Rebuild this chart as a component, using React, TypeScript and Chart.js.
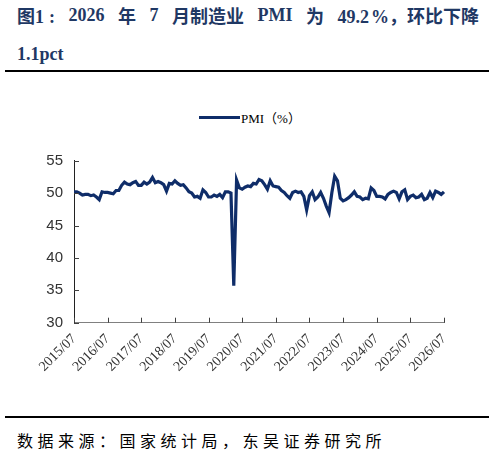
import React, { useEffect, useRef } from "react";
import { Chart, registerables } from "chart.js";

Chart.register(...registerables);

const tickLabels = [
  "2015/07", "2016/07", "2017/07", "2018/07", "2019/07", "2020/07",
  "2021/07", "2022/07", "2023/07", "2024/07", "2025/07", "2026/07",
];

const pmi2015 = [50.2, 50.2, 50.0, 49.7, 49.8, 49.8, 49.6, 49.7];
const pmi2016 = [49.4, 49.0, 50.2, 50.1, 50.1, 50.0, 49.9, 50.4, 50.4, 51.2, 51.7, 51.4];
const pmi2017 = [51.3, 51.6, 51.8, 51.2, 51.2, 51.7, 51.4, 51.7, 52.4, 51.6, 51.8, 51.6];
const pmi2018 = [51.3, 50.3, 51.5, 51.4, 51.9, 51.5, 51.2, 51.3, 50.8, 50.2, 50.0, 49.4];
const pmi2019 = [49.5, 49.2, 50.5, 50.1, 49.4, 49.4, 49.7, 49.5, 49.8, 49.3, 50.2, 50.2];
const pmi2020 = [50.0, 35.7, 52.0, 50.8, 50.6, 50.9, 51.1, 51.0, 51.5, 51.4, 52.1, 51.9];
const pmi2021 = [51.3, 50.6, 51.9, 51.1, 51.0, 50.9, 50.4, 50.1, 49.6, 49.2, 50.1, 50.3];
const pmi2022 = [50.1, 50.2, 49.5, 47.4, 49.6, 50.2, 49.0, 49.4, 50.1, 49.2, 48.0, 47.0];
const pmi2023 = [50.1, 52.6, 51.9, 49.2, 48.8, 49.0, 49.3, 49.7, 50.2, 49.5, 49.4, 49.0];
const pmi2024 = [49.2, 49.1, 50.8, 50.4, 49.5, 49.5, 49.4, 49.1, 49.8, 50.1, 50.3, 50.1];
const pmi2025 = [49.1, 50.2, 50.5, 49.0, 49.5, 49.7, 49.3, 49.4, 49.8, 49.0, 49.2, 50.1];
const pmi2026 = [49.3, 50.3, 50.1, 49.8, 50.2];

const pmiValues = [
  ...pmi2015, ...pmi2016, ...pmi2017, ...pmi2018, ...pmi2019, ...pmi2020,
  ...pmi2021, ...pmi2022, ...pmi2023, ...pmi2024, ...pmi2025, ...pmi2026,
];

// month categories, one per value, beginning at the first tick label
const categories: string[] = [];
{
  let y = 2015;
  let m = 7;
  for (let i = 0; i < pmiValues.length; i++) {
    categories.push(`${y}/${String(m).padStart(2, "0")}`);
    m++;
    if (m > 12) { m = 1; y++; }
  }
}

const yTicks = [30, 35, 40, 45, 50, 55];

const LINE = "#0F2D69";
const TITLE = "#1F3864";

const innerTicks = {
  id: "innerTicks",
  afterDraw(chart: any) {
    const { ctx } = chart;
    const xs = chart.scales.x;
    const ys = chart.scales.y;
    ctx.save();
    ctx.lineWidth = 1;
    ctx.strokeStyle = "#404040";
    categories.forEach((c, i) => {
      if (tickLabels.includes(c)) {
        const px = Math.round(xs.getPixelForValue(i)) + 0.5;
        ctx.beginPath();
        ctx.moveTo(px, ys.bottom);
        ctx.lineTo(px, ys.bottom - 5);
        ctx.stroke();
      }
    });
    yTicks.forEach((v) => {
      const py = Math.round(ys.getPixelForValue(v)) + 0.5;
      ctx.beginPath();
      ctx.moveTo(xs.left, py);
      ctx.lineTo(xs.left + 5, py);
      ctx.stroke();
    });
    ctx.restore();
  },
};

export default function App() {
  const ref = useRef<HTMLCanvasElement>(null);

  useEffect(() => {
    document.body.style.margin = "0";
    const chart = new Chart(ref.current!, {
      type: "line",
      data: {
        labels: categories,
        datasets: [
          {
            label: "PMI（%）",
            data: pmiValues,
            borderColor: LINE,
            backgroundColor: LINE,
            borderWidth: 3.2,
            pointRadius: 0,
            tension: 0,
          },
        ],
      },
      options: {
        responsive: false,
        animation: false,
        devicePixelRatio: 1,
        layout: { padding: { top: 20.7, right: 51, bottom: 0, left: 0 } },
        plugins: { legend: { display: false }, tooltip: { enabled: false } },
        scales: {
          x: {
            type: "category",
            offset: false,
            grid: { display: false, drawTicks: false },
            border: { display: true, color: "#808080", width: 1 },
            afterFit: (s: any) => { s.height = 77.3; },
            ticks: {
              autoSkip: false,
              maxRotation: 45,
              minRotation: 45,
              padding: 8,
              color: "#333333",
              font: { family: "'Liberation Serif', serif", size: 14 },
              callback: (_v: any, i: number) =>
                tickLabels.includes(categories[i]) ? categories[i] : null,
            },
          },
          y: {
            min: 30,
            max: 55,
            afterFit: (s: any) => { s.width = 74; },
            afterBuildTicks: (s: any) => { s.ticks = yTicks.map((v) => ({ value: v })); },
            grid: { display: false, drawTicks: false },
            border: { display: true, color: "#222222", width: 1 },
            ticks: {
              padding: 11,
              color: "#333333",
              font: { family: "'Liberation Sans', Arial, sans-serif", size: 15 },
            },
          },
        },
      },
      plugins: [innerTicks],
    });
    return () => chart.destroy();
  }, []);

  const rule: React.CSSProperties = {
    position: "absolute", left: 5, width: 484, height: 2, background: "#000",
  };

  return (
    <div style={{ position: "absolute", left: 0, top: 0, width: 495, height: 457, background: "#fff", overflow: "hidden" }}>
      <div
        style={{
          position: "absolute", left: 17, top: 0, width: 462, height: 30,
          display: "flex", justifyContent: "space-between", alignItems: "center",
          fontFamily: "'Liberation Serif', 'Noto Sans CJK SC', serif",
          fontWeight: 700, fontSize: 18, color: TITLE, whiteSpace: "nowrap",
        }}
      >
        <span>图1<span style={{ marginLeft: 5 }}>:</span></span><span>2026</span><span>年</span><span>7</span>
        <span>月制造业</span><span>PMI</span><span>为</span><span>49.2<span style={{ marginLeft: 2 }}>%</span>，环比下降</span>
      </div>
      <div
        style={{
          position: "absolute", left: 17, top: 39, height: 30, lineHeight: "30px",
          fontFamily: "'Liberation Serif', 'Noto Sans CJK SC', serif",
          fontWeight: 700, fontSize: 18, color: TITLE,
        }}
      >
        1.1pct
      </div>
      <div style={{ ...rule, top: 70 }} />
      <div
        style={{
          position: "absolute", left: 199, top: 108, height: 18,
          display: "flex", alignItems: "center",
          fontFamily: "'Liberation Serif', 'Noto Sans CJK SC', serif",
          fontSize: 13, color: "#000",
        }}
      >
        <span style={{ display: "inline-block", width: 41, height: 3, background: LINE, marginRight: 1 }} />
        <span>PMI（%）</span>
      </div>
      <canvas ref={ref} width={495} height={260} style={{ position: "absolute", left: 0, top: 140 }} />
      <div style={{ ...rule, top: 416 }} />
      <div
        style={{
          position: "absolute", left: 17, top: 430, height: 20, lineHeight: "20px",
          fontFamily: "'Noto Sans CJK SC', sans-serif", fontSize: 16, letterSpacing: 4.5,
          color: "#000", whiteSpace: "nowrap",
        }}
      >
        数据来源：国家统计局，东吴证券研究所
      </div>
    </div>
  );
}
